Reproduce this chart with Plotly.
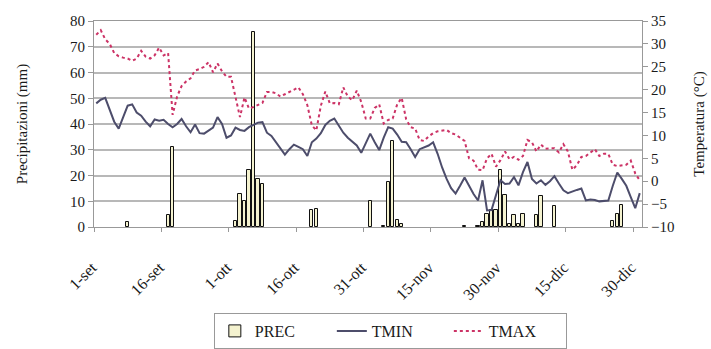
import plotly.graph_objects as go

# Daily series, 1 Sep .. 31 Dec (122 days)
prec = [
    0, 0, 0, 0, 0, 0, 0, 2, 0, 0, 0, 0, 0, 0, 0,
    0, 4.5, 31, 0, 0, 0, 0, 0, 0, 0, 0, 0, 0, 0, 0,
    0, 2.3, 13, 10, 22, 75.7, 18.8, 16.6, 0, 0, 0, 0, 0, 0, 0,
    0, 0, 0, 6.5, 7, 0, 0, 0, 0, 0, 0, 0, 0, 0, 0,
    0, 10.1, 0, 0, 0.5, 17.5, 33.3, 2.6, 1, 0, 0, 0, 0, 0, 0,
    0, 0, 0, 0, 0, 0, 0, 0.5, 0, 0, 0.5, 1.8, 4.9, 6.5, 6.5,
    22, 12.6, 1, 4.5, 1.2, 5, 0, 0, 4.7, 12, 0, 0, 8.2, 0, 0,
    0, 0, 0, 0, 0, 0, 0, 0, 0, 0, 2.5, 5, 8.4, 0, 0,
    0, 0,
]

tmin = [
    17.0, 17.8, 18.2, 15.5, 13.0, 11.5, 14.0, 16.5, 16.8, 15.0, 14.3, 13.0, 12.0, 13.5, 13.2,
    13.4, 12.5, 11.8, 12.5, 13.6, 12.0, 10.7, 12.4, 10.5, 10.4, 11.0, 11.7, 14.0, 12.5, 9.5,
    10.0, 11.7, 11.2, 11.0, 11.8, 12.3, 12.8, 12.9, 10.6, 9.9, 8.5, 7.0, 5.8, 7.0, 8.0,
    7.5, 7.0, 5.5, 8.5, 9.3, 10.5, 12.3, 13.2, 13.7, 12.0, 10.6, 9.5, 8.6, 7.8, 6.2,
    8.5, 10.4, 8.5, 6.8, 9.5, 11.8, 11.5, 10.2, 8.6, 8.5, 7.0, 5.3, 7.0, 7.4, 7.8,
    8.5, 6.0, 3.0, 0.5, -1.5, -2.7, -1.0, 0.8, -1.0, -2.8, -4.2, 0.2, -6.4, -6.3, -3.0,
    0.2, -0.6, -0.5, 0.9, -0.9, 2.0, 4.2, 0.5, -0.5, 0.2, -0.8, 0.0, 1.1, -0.5, -2.0,
    -2.6, -2.2, -1.9, -1.6, -4.2, -4.0, -4.1, -4.4, -4.3, -4.2, -1.0, 1.9, 0.5, -1.0, -3.5,
    -5.9, -2.6,
]

tmax = [
    32.0, 33.0, 31.0, 30.0, 28.0, 27.3, 27.0, 26.8, 26.3, 26.8, 28.5, 27.2, 26.8, 27.5, 29.2,
    27.5, 28.0, 14.5, 18.5, 20.8, 21.8, 22.5, 24.2, 24.5, 25.0, 26.0, 23.8, 25.7, 24.0, 22.8,
    22.8, 18.0, 14.0, 18.3, 15.9, 16.2, 16.6, 17.1, 19.5, 19.5, 19.2, 18.5, 19.0, 19.5, 20.0,
    20.5, 19.0, 16.6, 12.2, 11.1, 16.5, 19.6, 17.0, 17.1, 16.8, 20.5, 18.5, 17.7, 19.8, 17.3,
    13.7, 13.7, 16.0, 16.8, 12.6, 13.4, 13.7, 16.8, 18.2, 13.5, 11.8, 11.5, 9.0, 8.8, 9.8,
    10.5, 10.9, 11.1, 11.2, 10.5, 10.2, 9.5, 8.8, 5.0, 4.5, 2.5, 2.4, 5.0, 6.0, 3.2,
    4.6, 6.5, 4.8, 5.3, 4.7, 5.5, 9.0, 8.5, 6.5, 8.0, 7.1, 7.2, 7.2, 6.3, 8.1,
    6.5, 2.5, 3.5, 5.3, 5.5, 6.2, 7.0, 5.5, 6.0, 6.0, 3.6, 3.3, 3.5, 3.6, 4.5,
    1.7, 0.2,
]

tick_labels = ["1-set", "16-set", "1-ott", "16-ott", "31-ott", "15-nov", "30-nov", "15-dic", "30-dic"]
tick_days = [0, 15, 30, 45, 60, 75, 90, 105, 120]

days = list(range(len(tmin)))
FONT = "Liberation Serif"
GRID = "#b8b8b8"

fig = go.Figure()
fig.add_trace(go.Bar(
    x=days, y=[p if p > 0 else None for p in prec], name="PREC",
    width=0.7,
    marker=dict(color="#f4f2cf", line=dict(color="#111111", width=1)),
    yaxis="y",
))
fig.add_trace(go.Scatter(
    x=days, y=tmin, name="TMIN", mode="lines",
    line=dict(color="#4d4d6b", width=2),
    yaxis="y2",
))
fig.add_trace(go.Scatter(
    x=days, y=tmax, name="TMAX", mode="lines",
    line=dict(color="#cc3366", width=2, dash="dot"),
    yaxis="y2",
))

fig.update_layout(
    width=711, height=349,
    margin=dict(l=94, r=69, t=21, b=122),
    paper_bgcolor="white", plot_bgcolor="white",
    font=dict(family=FONT, size=15, color="#1a1a1a"),
    bargap=0,
    xaxis=dict(
        range=[-0.5, len(days) - 0.5],
        tickmode="array",
        tickvals=[d - 0.5 for d in tick_days],
        ticktext=tick_labels,
        tickangle=-45,
        ticks="outside", ticklen=4, tickcolor="#999999",
        ticklabelstandoff=20, ticklabelshift=-2,
        showgrid=False, zeroline=False,
        showline=True, linecolor="#999999", linewidth=1, mirror=True,
        automargin=False,
        tickfont=dict(family=FONT, size=16),
    ),
    yaxis=dict(
        range=[0, 80], dtick=10,
        title=dict(text="Precipitazioni (mm)", font=dict(family=FONT, size=15), standoff=38),
        ticks="outside", ticklen=5, tickcolor="#999999",
        showgrid=True, gridcolor=GRID, gridwidth=1.5,
        zeroline=False,
        showline=True, linecolor="#999999", linewidth=1,
        automargin=False,
        tickfont=dict(family=FONT, size=15),
    ),
    yaxis2=dict(
        range=[-10, 35], dtick=5,
        overlaying="y", side="right",
        title=dict(text="Temperatura (°C)", font=dict(family=FONT, size=15), standoff=20),
        ticks="outside", ticklen=5, tickcolor="#999999",
        showgrid=False, zeroline=False,
        showline=True, linecolor="#999999", linewidth=1,
        automargin=False,
        tickfont=dict(family=FONT, size=15),
    ),
    legend=dict(
        orientation="h",
        xref="container", yref="container",
        x=0.549, xanchor="center",
        y=0.0, yanchor="bottom",
        bgcolor="white", bordercolor="#999999", borderwidth=1,
        font=dict(family=FONT, size=16),
        entrywidth=72, entrywidthmode="pixels",
        traceorder="normal",
    ),
    showlegend=True,
)

fig.write_html("out.html")
